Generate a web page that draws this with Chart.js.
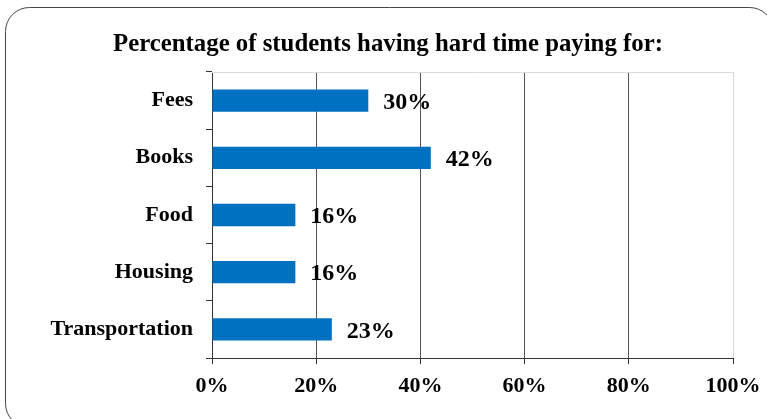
<!DOCTYPE html>
<html>
<head>
<meta charset="utf-8">
<script src="https://cdn.jsdelivr.net/npm/chart.js@4"></script>
<style>
  html, body { margin: 0; padding: 0; background: #fff; }
  #wrap { width: 767px; height: 419px; position: relative; }
</style>
</head>
<body>
<div id="wrap"><canvas id="c" width="767" height="419"></canvas></div>
<script>
const categories = ["Fees", "Books", "Food", "Housing", "Transportation"];
const percentValues = [30, 42, 16, 16, 23];
const xTickValues = [0, 20, 40, 60, 80, 100];
const chartTitle = "Percentage of students having hard time paying for:";

const SERIF = "'Liberation Serif', 'Times New Roman', serif";

const framePlugin = {
  id: 'frame',
  beforeDraw(chart) {
    const ctx = chart.ctx;
    ctx.save();
    ctx.fillStyle = '#fff';
    ctx.fillRect(0, 0, chart.width, chart.height);
    ctx.strokeStyle = '#444';
    ctx.lineWidth = 1;
    ctx.beginPath();
    ctx.roundRect(5.5, 7.5, 768, 420, 24);
    ctx.stroke();
    // title
    ctx.fillStyle = '#000';
    ctx.font = "bold 24.8px " + SERIF;
    ctx.textAlign = 'center';
    ctx.textBaseline = 'middle';
    ctx.fillText(chartTitle, 388, 45);
    ctx.restore();
  },
  afterDatasetsDraw(chart) {
    const ctx = chart.ctx;
    const a = chart.chartArea;
    ctx.save();
    ctx.strokeStyle = '#d9d9d9';
    ctx.lineWidth = 1;
    ctx.beginPath();
    ctx.moveTo(a.left, Math.round(a.top) + 0.5);
    ctx.lineTo(a.right, Math.round(a.top) + 0.5);
    ctx.stroke();
    const meta = chart.getDatasetMeta(0);
    ctx.fillStyle = '#000';
    ctx.font = "bold 24px " + SERIF;
    ctx.textAlign = 'left';
    ctx.textBaseline = 'middle';
    meta.data.forEach((bar, i) => {
      ctx.fillText(percentValues[i] + '%', bar.x + 15, bar.y + 2);
    });
    ctx.restore();
  }
};

new Chart(document.getElementById('c'), {
  type: 'bar',
  data: {
    labels: categories,
    datasets: [{
      data: percentValues,
      backgroundColor: '#0070C0',
      borderWidth: 0,
      barPercentage: 0.39,
      categoryPercentage: 1.0
    }]
  },
  plugins: [framePlugin],
  options: {
    indexAxis: 'y',
    responsive: false,
    animation: false,
    devicePixelRatio: 1,
    layout: { padding: { top: 72, left: 0, right: 34, bottom: 0 } },
    plugins: { legend: { display: false }, title: { display: false }, tooltip: { enabled: false } },
    scales: {
      x: {
        min: 0, max: 100,
        afterBuildTicks(scale) { scale.ticks = xTickValues.map(v => ({ value: v })); },
        afterFit(scale) { scale.height = 61; scale.paddingLeft = 0; scale.paddingRight = 0; },
        grid: {
          color: (c) => (c.tick && c.tick.value === 100) ? '#d9d9d9' : '#555',
          tickColor: '#333',
          tickLength: 6,
          lineWidth: 1,
          drawOnChartArea: true
        },
        border: { color: '#333', width: 1 },
        ticks: {
          color: '#000',
          font: { family: SERIF, size: 22, weight: 'bold' },
          padding: 9,
          maxRotation: 0,
          callback: (v) => v + '%'
        }
      },
      y: {
        afterFit(scale) { scale.width = 212; scale.paddingTop = 0; scale.paddingBottom = 0; },
        grid: {
          drawOnChartArea: false,
          tickColor: '#333',
          tickLength: 6,
          offset: true
        },
        border: { color: '#333', width: 1 },
        ticks: {
          color: '#000',
          font: { family: SERIF, size: 22, weight: 'bold' },
          padding: 13
        }
      }
    }
  }
});
</script>
</body>
</html>
